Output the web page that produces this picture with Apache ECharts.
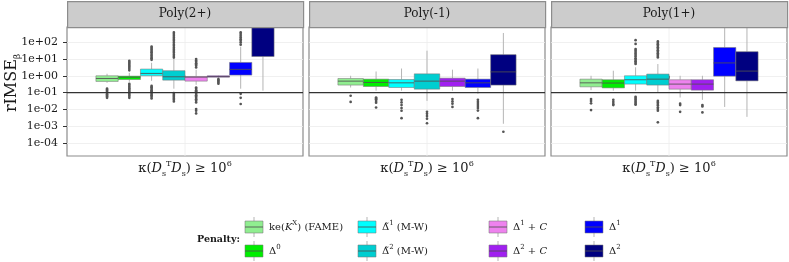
<!DOCTYPE html>
<html><head><meta charset="utf-8">
<script src="https://cdn.jsdelivr.net/npm/echarts@6/dist/echarts.min.js"></script>
<style>html,body{margin:0;padding:0;background:#fff}#c{width:789px;height:262px}</style>
</head><body><div id="c"></div>
<script>
// ---------------- data ----------------
const panelTitles = ['Poly(2+)', 'Poly(-1)', 'Poly(1+)'];
const methodNames = ['ke(K^X) (FAME)', 'Δ^0', 'Δ̃^1 (M-W)', 'Δ̃^2 (M-W)', 'Δ^1 + C', 'Δ^2 + C', 'Δ^1', 'Δ^2'];
const methodLabelsRich = [
  '{n|ke(}{i|K}{sup|X}{n|) (FAME)}', '{n|Δ}{sup|0}', '{n|Δ̃}{sup|1}{n| (M-W)}', '{n|Δ̃}{sup|2}{n| (M-W)}',
  '{n|Δ}{sup|1}{n| + }{i|C}', '{n|Δ}{sup|2}{n| + }{i|C}', '{n|Δ}{sup|1}', '{n|Δ}{sup|2}'
];
const methodColors = ['#90EE90', '#00EE00', '#00FFFF', '#00CED1', '#EE82EE', '#A020F0', '#0000FF', '#000080'];
const yTickExponents = [-4, -3, -2, -1, 0, 1, 2];
const xCategory = ['kappa'];
const refLineValue = 0.1;
const legendTitle = 'Penalty:';

// panel 1: Poly(2+)   stats = [lower whisker, Q1, median, Q3, upper whisker]
const p1Methods = [0, 1, 2, 3, 4, 5, 6, 7];
const p1Stats = [
  [0.38, 0.46, 0.69, 1.00, 1.32],
  [0.44, 0.60, 0.83, 0.95, 1.50],
  [0.50, 1.00, 1.38, 2.50, 5.90],
  [0.17, 0.55, 0.87, 2.00, 10.0],
  [0.29, 0.48, 0.83, 0.91, 2.30],
  [0.76, 0.83, 0.89, 1.00, 1.05],
  [0.17, 1.10, 2.40, 6.20, 54.0],
  [0.13, 14.0, 1600, 10000, 100000]
];
const p1Outliers = [
  [0.17, 0.15, 0.13, 0.11, 0.095, 0.08, 0.068, 0.058, 0.049],
  [7.8, 6.6, 5.5, 4.6, 3.8, 3.2, 2.6, 2.1, 0.33, 0.28, 0.23, 0.19, 0.16, 0.13, 0.11, 0.089, 0.074, 0.062, 0.049],
  [54, 45, 37, 30, 25, 20, 16, 13, 11, 8.9, 0.25, 0.21, 0.17, 0.14, 0.12, 0.10, 0.083, 0.069, 0.057, 0.045],
  [380, 300, 240, 190, 150, 120, 95, 75, 60, 48, 38, 30, 24, 19, 15, 12, 0.093, 0.078, 0.065, 0.055, 0.045, 0.038, 0.03],
  [9.8, 8.1, 6.8, 5.6, 4.7, 3.9, 3.1, 0.2, 0.17, 0.14, 0.12, 0.1, 0.083, 0.069, 0.058, 0.048, 0.04, 0.033, 0.026, 0.0105, 0.0083, 0.0058],
  [0.63, 0.55, 0.48, 0.40, 0.34],
  [380, 300, 240, 190, 150, 120, 95, 71, 0.085, 0.049, 0.021],
  []
];

// panel 2: Poly(-1)
const p2Methods = [0, 1, 2, 3, 5, 6, 7];
const p2Stats = [
  [0.20, 0.28, 0.48, 0.69, 1.0],
  [0.13, 0.23, 0.40, 0.63, 1.8],
  [0.13, 0.20, 0.38, 0.60, 2.7],
  [0.032, 0.16, 0.48, 1.3, 31],
  [0.13, 0.23, 0.48, 0.72, 2.3],
  [0.085, 0.20, 0.38, 0.63, 2.7],
  [0.0014, 0.28, 1.7, 18, 350]
];
const p2Outliers = [
  [0.065, 0.028],
  [0.051, 0.045, 0.04, 0.032, 0.025, 0.013],
  [0.037, 0.026, 0.018, 0.012, 0.0083, 0.003],
  [0.0072, 0.0055, 0.004, 0.0028, 0.0015],
  [0.041, 0.03, 0.022, 0.014],
  [0.037, 0.028, 0.021, 0.016, 0.012, 0.0085, 0.003],
  [0.00047]
];

// panel 3: Poly(1+)
const p3Methods = [0, 1, 2, 3, 4, 5, 6, 7];
const p3Stats = [
  [0.14, 0.22, 0.38, 0.63, 1.0],
  [0.13, 0.19, 0.37, 0.58, 2.0],
  [0.13, 0.32, 0.58, 1.0, 3.2],
  [0.10, 0.28, 0.63, 1.26, 5.0],
  [0.051, 0.16, 0.32, 0.58, 1.0],
  [0.037, 0.14, 0.32, 0.58, 1.0],
  [0.014, 0.95, 5.8, 48, 1600],
  [0.0036, 0.50, 1.9, 27, 1600]
];
const p3Outliers = [
  [0.041, 0.032, 0.023, 0.0091],
  [0.037, 0.028, 0.021, 0.018],
  [130, 78, 39, 32, 26, 21, 17, 14, 11, 9.1, 7.4, 6.0, 5.0, 0.056, 0.047, 0.039, 0.032, 0.026, 0.021, 0.019],
  [110, 90, 74, 60, 49, 40, 33, 27, 22, 18, 15, 12.3, 0.032, 0.026, 0.021, 0.017, 0.013, 0.0105, 0.0083, 0.0017],
  [0.022, 0.018, 0.0072],
  [0.018, 0.015, 0.0066],
  [],
  []
];

// ---------------- layout / style ----------------
const FONT = 'DejaVu Serif';
const panels = [
  { methods: p1Methods, stats: p1Stats, outliers: p1Outliers },
  { methods: p2Methods, stats: p2Stats, outliers: p2Outliers },
  { methods: p3Methods, stats: p3Stats, outliers: p3Outliers }
];
const gridLefts = [67, 309, 551];
const GRID_TOP = 27, GRID_W = 236, GRID_H = 129;
const Y_MIN = -4.77, Y_MAX = 2.9;
const GROUP_FRAC = 0.755;

const chart = echarts.init(document.getElementById('c'), null, { renderer: 'canvas' });

const grids = gridLefts.map(l => ({
  left: l, top: GRID_TOP, width: GRID_W, height: GRID_H,
  show: true, borderColor: '#8c8c8c', borderWidth: 1.2, backgroundColor: '#fff'
}));

const xRich = {
  n: { fontFamily: FONT, fontSize: 13, lineHeight: 18, color: '#1a1a1a' },
  i: { fontFamily: FONT, fontSize: 13, lineHeight: 18, fontStyle: 'italic', color: '#1a1a1a' },
  sup: { fontFamily: FONT, fontSize: 8, lineHeight: 9, verticalAlign: 'top', color: '#1a1a1a' },
  sub: { fontFamily: FONT, fontSize: 8, lineHeight: 9, verticalAlign: 'bottom', color: '#1a1a1a' }
};

const xAxes = gridLefts.map((l, gi) => ({
  gridIndex: gi, type: 'category', data: xCategory, boundaryGap: true,
  axisLine: { show: false },
  axisTick: { show: true, alignWithLabel: true, length: 3, lineStyle: { color: '#333' } },
  axisLabel: {
    margin: 4,
    formatter: () => '{n|κ(}{i|D}{sub|s}{sup|T}{i|D}{sub|s}{n|) ≥ 10}{sup|6}',
    rich: xRich
  },
  splitLine: { show: false }
}));

const fmtExp = v => '1e' + (v < 0 ? '-' : '+') + String(Math.abs(v)).padStart(2, '0');

const yAxes = gridLefts.map((l, gi) => ({
  gridIndex: gi, type: 'value', min: Y_MIN, max: Y_MAX,
  axisLine: { show: false },
  axisTick: { show: gi === 0, length: 4, customValues: yTickExponents, lineStyle: { color: '#333' } },
  axisLabel: {
    show: gi === 0, customValues: yTickExponents, formatter: fmtExp, margin: 9,
    fontFamily: FONT, fontSize: 11, color: '#1a1a1a'
  },
  splitLine: { show: true, lineStyle: { color: '#ececec', width: 0.8 } }
}));

function boxSeries(gi, p) {
  const n = p.methods.length;
  return {
    type: 'custom', xAxisIndex: gi, yAxisIndex: gi, clip: true, z: 3,
    data: p.stats.map(s => [0].concat(s.map(v => Math.log10(v)))),
    encode: { x: 0, y: [1, 2, 3, 4, 5] },
    renderItem: (params, api) => {
      const k = params.dataIndex;
      const color = methodColors[p.methods[k]];
      const band = api.size([1, 0])[0];
      const cx = api.coord([0, api.value(3)])[0];
      const w = band * GROUP_FRAC / n;
      const x0 = cx - band * GROUP_FRAC / 2 + k * w;
      const xm = x0 + w / 2;
      const y = i => api.coord([0, api.value(i)])[1];
      const yLo = y(1), yQ1 = y(2), yMed = y(3), yQ3 = y(4), yHi = y(5);
      const wStyle = { stroke: '#b5b5b5', lineWidth: 1 };
      return {
        type: 'group', children: [
          { type: 'line', shape: { x1: xm, y1: yHi, x2: xm, y2: yQ3 }, style: wStyle },
          { type: 'line', shape: { x1: xm, y1: yQ1, x2: xm, y2: yLo }, style: wStyle },
          { type: 'rect', shape: { x: x0, y: yQ3, width: w, height: yQ1 - yQ3 },
            style: { fill: color, stroke: 'rgba(120,120,120,0.55)', lineWidth: 1 } },
          { type: 'line', shape: { x1: x0, y1: yMed, x2: x0 + w, y2: yMed },
            style: { stroke: 'rgba(80,80,80,0.85)', lineWidth: 1 } }
        ]
      };
    }
  };
}

function outlierSeries(gi, p) {
  const n = p.methods.length;
  const data = [];
  p.outliers.forEach((arr, k) => arr.forEach(v => data.push([0, Math.log10(v), k])));
  return {
    type: 'custom', xAxisIndex: gi, yAxisIndex: gi, clip: true, z: 4,
    data: data, encode: { x: 0, y: 1 },
    renderItem: (params, api) => {
      const band = api.size([1, 0])[0];
      const c = api.coord([0, api.value(1)]);
      const k = api.value(2);
      const w = band * GROUP_FRAC / n;
      const xm = c[0] - band * GROUP_FRAC / 2 + k * w + w / 2;
      return { type: 'circle', shape: { cx: xm, cy: c[1], r: 1.35 }, style: { fill: '#555' } };
    }
  };
}

function refSeries(gi) {
  return {
    type: 'custom', xAxisIndex: gi, yAxisIndex: gi, z: 5, silent: true,
    data: [[0, Math.log10(refLineValue)]], encode: { x: 0, y: 1 },
    renderItem: (params, api) => {
      const cs = params.coordSys;
      const c = api.coord([0, api.value(1)]);
      return { type: 'line', shape: { x1: cs.x, y1: c[1], x2: cs.x + cs.width, y2: c[1] },
        style: { stroke: '#333', lineWidth: 1.3 } };
    }
  };
}

function vGridSeries(gi) {
  return {
    type: 'custom', xAxisIndex: gi, yAxisIndex: gi, z: 1, silent: true,
    data: [[0, 0]], encode: { x: 0, y: 1 },
    renderItem: (params, api) => {
      const cs = params.coordSys;
      const c = api.coord([0, 0]);
      return { type: 'line', shape: { x1: c[0], y1: cs.y, x2: c[0], y2: cs.y + cs.height },
        style: { stroke: '#ececec', lineWidth: 0.8 } };
    }
  };
}

const series = [];
panels.forEach((p, gi) => {
  series.push(vGridSeries(gi), boxSeries(gi, p), outlierSeries(gi, p), refSeries(gi));
});

// graphic: strips, y title, legend
const graphic = [];
gridLefts.forEach((l, gi) => {
  graphic.push({
    type: 'rect', left: l, top: 1, shape: { width: GRID_W, height: GRID_TOP - 1 },
    style: { fill: '#cccccc', stroke: '#8c8c8c', lineWidth: 1.2 }, z: 10
  });
  graphic.push({
    type: 'text', x: l + GRID_W / 2, y: 14, z: 11,
    style: { text: panelTitles[gi], fontFamily: FONT, fontSize: 12, fill: '#1a1a1a', align: 'center', verticalAlign: 'middle' }
  });
});

graphic.push({
  type: 'text', x: 12, y: 83, rotation: Math.PI / 2, z: 11,
  style: {
    text: '{n|rIMSE}{sub|β}', align: 'center', verticalAlign: 'middle',
    rich: {
      n: { fontFamily: FONT, fontSize: 16, lineHeight: 20, fill: '#1a1a1a' },
      sub: { fontFamily: FONT, fontSize: 9, lineHeight: 10, verticalAlign: 'bottom', fill: '#1a1a1a' }
    }
  }
});

graphic.push({
  type: 'text', x: 197, y: 240, z: 11,
  style: { text: legendTitle, fontFamily: FONT, fontSize: 9.5, fontWeight: 'bold', fill: '#1a1a1a', align: 'left', verticalAlign: 'middle' }
});

const legendKeyX = [245, 358, 489, 585];
const legendRowY = [227, 251];
const legendRich = {
  n: { fontFamily: FONT, fontSize: 10, lineHeight: 14, fill: '#1a1a1a' },
  i: { fontFamily: FONT, fontSize: 10, lineHeight: 14, fontStyle: 'italic', fill: '#1a1a1a' },
  sup: { fontFamily: FONT, fontSize: 7, lineHeight: 8, verticalAlign: 'top', fill: '#1a1a1a' }
};
methodNames.forEach((name, m) => {
  const col = Math.floor(m / 2), row = m % 2;
  const kx = legendKeyX[col], cy = legendRowY[row];
  graphic.push({ type: 'line', shape: { x1: kx + 9, y1: cy - 10, x2: kx + 9, y2: cy + 10 }, style: { stroke: '#b5b5b5', lineWidth: 1 }, z: 10 });
  graphic.push({ type: 'rect', shape: { x: kx, y: cy - 6, width: 18, height: 12 }, style: { fill: methodColors[m], stroke: 'rgba(120,120,120,0.55)', lineWidth: 1 }, z: 11 });
  graphic.push({ type: 'line', shape: { x1: kx, y1: cy, x2: kx + 18, y2: cy }, style: { stroke: 'rgba(80,80,80,0.85)', lineWidth: 1 }, z: 12 });
  graphic.push({
    type: 'text', x: kx + 24, y: cy, z: 12,
    style: { text: methodLabelsRich[m], rich: legendRich, align: 'left', verticalAlign: 'middle' }
  });
});

chart.setOption({
  animation: false,
  backgroundColor: '#ffffff',
  grid: grids,
  xAxis: xAxes,
  yAxis: yAxes,
  series: series,
  graphic: graphic
});
</script>
</body></html>
